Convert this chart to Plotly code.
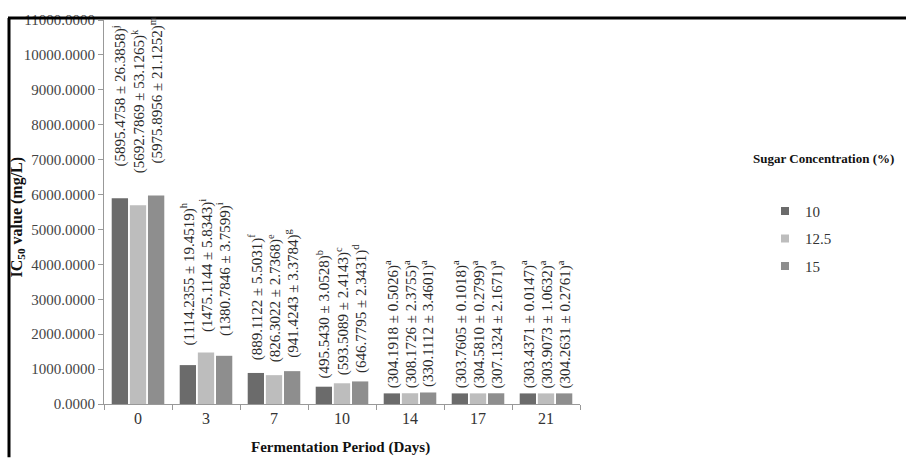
import plotly.graph_objects as go

days = ["0", "3", "7", "10", "14", "17", "21"]
sugar_levels = ["10", "12.5", "15"]
ic50_10 = [5895.4758, 1114.2355, 889.1122, 495.5430, 304.1918, 303.7605, 303.4371]
ic50_125 = [5692.7869, 1475.1144, 826.3022, 593.5089, 308.1726, 304.5810, 303.9073]
ic50_15 = [5975.8956, 1380.7846, 941.4243, 646.7795, 330.1112, 307.1324, 304.2631]
sd_10 = [26.3858, 19.4519, 5.5031, 3.0528, 0.5026, 0.1018, 0.0147]
sd_125 = [53.1265, 5.8343, 2.7368, 2.4143, 2.3755, 0.2799, 1.0632]
sd_15 = [21.1252, 3.7599, 3.3784, 2.3431, 3.4601, 2.1671, 0.2761]
sig_10 = ["j", "h", "f", "b", "a", "a", "a"]
sig_125 = ["k", "i", "e", "c", "a", "a", "a"]
sig_15 = ["m", "i", "g", "d", "a", "a", "a"]

colors = ["#6b6b6b", "#bdbdbd", "#8e8e8e"]
serif = "Liberation Serif"
label_gap_px = [30, 18, 11, 6, 3, 3, 3]  # style: pixel gap between bar top and label

# layout geometry (pixels)
W, H = 906, 458
L, R, T, B = 104, 326, 15, 54
pw = W - L - R
ph = H - T - B

def px(xp):
    return (xp - L) / pw

def py(yp):
    return (H - B - yp) / ph

fig = go.Figure()
series = [(ic50_10, sd_10, sig_10), (ic50_125, sd_125, sig_125), (ic50_15, sd_15, sig_15)]
for i, (vals, sds, sigs) in enumerate(series):
    fig.add_trace(go.Bar(x=days, y=vals, marker=dict(color=colors[i], line=dict(width=0)),
                         showlegend=False, name=sugar_levels[i]))
    fig.add_trace(go.Scatter(x=[None], y=[None], mode="markers", name=sugar_levels[i],
                             legendgroup=sugar_levels[i],
                             marker=dict(symbol="square", size=8, color=colors[i])))

bargap, bargroupgap = 0.2, 0.1
slot = pw / len(days) * (1 - bargap) / 3
annotations = []
for i, (vals, sds, sigs) in enumerate(series):
    for j, (v, s, g) in enumerate(zip(vals, sds, sigs)):
        annotations.append(dict(
            x=j, y=v, xref="x", yref="y", text=f"({v:.4f} ± {s:.4f})<sup>{g}</sup>",
            textangle=-90, showarrow=False, xanchor="center", yanchor="bottom",
            xshift=(i - 1) * slot, yshift=label_gap_px[j],
            font=dict(family=serif, size=15, color="#2a2a2a")))

annotations.append(dict(x=px(17), y=py(215), xref="paper", yref="paper", xanchor="center",
                        yanchor="middle",
                        text="<b>IC<sub>50</sub> value (mg/L)</b>", textangle=-90, showarrow=False,
                        font=dict(family=serif, size=16, color="#111")))
annotations.append(dict(x=px(340), y=py(448), xref="paper", yref="paper", xanchor="center",
                        yanchor="middle",
                        text="<b>Fermentation Period (Days)</b>", showarrow=False,
                        font=dict(family=serif, size=15, color="#111")))
annotations.append(dict(x=px(751), y=py(155), xref="paper", yref="paper", xanchor="left",
                        yanchor="middle",
                        text="<b>Sugar Concentration (%)</b>", showarrow=False,
                        font=dict(family=serif, size=13, color="#111")))

shapes = [
    dict(type="line", xref="paper", yref="paper", x0=px(8), x1=px(906), y0=py(13), y1=py(13),
         line=dict(color="black", width=3)),
    dict(type="line", xref="paper", yref="paper", x0=px(9), x1=px(9), y0=py(13), y1=py(458),
         line=dict(color="black", width=3)),
]

fig.update_layout(
    width=W, height=H, margin=dict(l=L, r=R, t=T, b=B),
    paper_bgcolor="white", plot_bgcolor="white",
    barmode="group", bargap=bargap, bargroupgap=bargroupgap,
    annotations=annotations, shapes=shapes,
    legend=dict(x=px(765), y=py(192), xanchor="left", yanchor="top",
                font=dict(family=serif, size=15, color="#333"),
                tracegroupgap=5, itemwidth=30, bgcolor="rgba(0,0,0,0)"),
    xaxis=dict(type="category", range=[-0.5, len(days) - 0.5], showline=True, linecolor="#999",
               linewidth=1, ticks="outside", tickson="boundaries", ticklen=5, tickcolor="#999",
               tickangle=0,
               tickfont=dict(family=serif, size=16, color="#333"), showgrid=False),
    yaxis=dict(range=[0, 11000], dtick=1000, tickformat=".4f", showline=True, linecolor="#999",
               linewidth=1, ticks="outside", ticklen=5, tickcolor="#999", showgrid=False,
               zeroline=False, tickfont=dict(family=serif, size=15, color="#444")),
)

fig.write_html("out.html")
